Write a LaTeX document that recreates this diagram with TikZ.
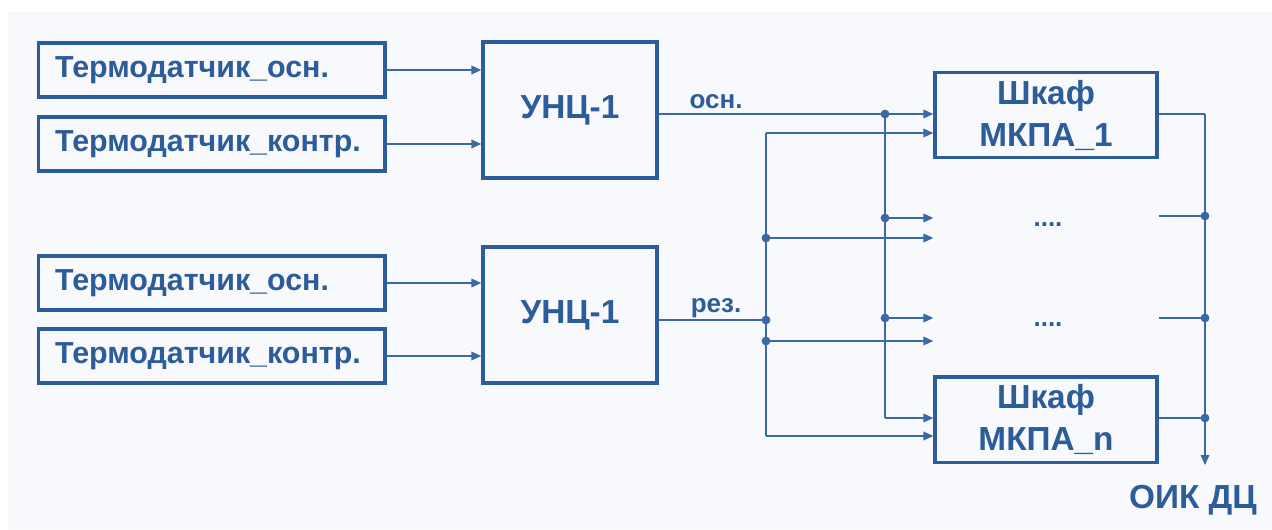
\documentclass[tikz,border=0pt]{standalone}
\usepackage{fontspec}
\setmainfont{Liberation Sans}
\usetikzlibrary{arrows.meta}
\definecolor{schblue}{HTML}{2C5C9A}
\definecolor{schline}{HTML}{3A69A6}
\definecolor{schbg}{HTML}{F7F9FC}
\tikzset{
  boxline/.style={draw=schblue, line width=2.5pt, inner sep=0pt, text=schblue},
  sensor/.style={boxline, minimum width=260pt, minimum height=40.5pt, inner xsep=12.75pt,
    text width=234.5pt, align=left, font=\bfseries\fontsize{22.8}{26}\selectfont},
  unc/.style={boxline, minimum width=130.5pt, minimum height=102pt,
    font=\bfseries\fontsize{25}{30}\selectfont},
  cab/.style={boxline, minimum width=166.5pt, minimum height=64pt, align=center,
    font=\bfseries\fontsize{25}{31.5}\selectfont},
  wire/.style={draw=schline, line width=1.2pt},
  feed/.style={wire, -{Triangle[length=7.5pt,width=6.5pt]}},
  lbl/.style={anchor=base, text=schblue, font=\bfseries\fontsize{19.5}{22}\selectfont}
}
\begin{document}
\begin{tikzpicture}[x=0.75pt,y=-0.75pt]
\fill[white] (0,0) rectangle (1272,529);
\fill[schbg] (8,12) rectangle (1272,529);
\useasboundingbox (0,0) rectangle (1272,529);

\node[sensor] (s1) at (211.5,70)  {Термодатчик\_осн.};
\node[sensor] (s2) at (211.5,144) {Термодатчик\_контр.};
\node[sensor] (s3) at (211.5,283) {Термодатчик\_осн.};
\node[sensor] (s4) at (211.5,356) {Термодатчик\_контр.};
\node[unc] (u1) at (570,110) {УНЦ-1};
\node[unc] (u2) at (570,315) {УНЦ-1};
\node[cab] (m1) at (1046,115)   {Шкаф\\МКПА\_1};
\node[cab] (mn) at (1046,419.5) {Шкаф\\МКПА\_n};

\draw[feed] (s1.east) -- (s1.east -| u1.west);
\draw[feed] (s2.east) -- (s2.east -| u1.west);
\draw[feed] (s3.east) -- (s3.east -| u2.west);
\draw[feed] (s4.east) -- (s4.east -| u2.west);

\coordinate (a0) at (885,114);
\coordinate (a1) at (885,218);
\coordinate (a2) at (885,318);
\coordinate (a3) at (885,418);
\coordinate (b0) at (766,133);
\coordinate (b1) at (766,238);
\coordinate (b2) at (766,320);
\coordinate (b3) at (766,341);
\coordinate (b4) at (766,436);
\coordinate (c0) at (1205,114);
\coordinate (c1) at (1205,216);
\coordinate (c2) at (1205,318);
\coordinate (c3) at (1205,418);
\coordinate (c4) at (1205,465);

\draw[wire] (u1.east |- a0) -- (a0);
\draw[feed] (a0) -- (a0 -| m1.west);
\draw[wire] (a0) -- (a3);
\draw[feed] (a3) -- (a3 -| mn.west);
\draw[feed] (a1) -- (a1 -| m1.west);
\draw[feed] (a2) -- (a2 -| m1.west);

\draw[wire] (u2.east |- b2) -- (b2);
\draw[wire] (b0) -- (b4);
\draw[feed] (b0) -- (b0 -| m1.west);
\draw[feed] (b4) -- (b4 -| mn.west);
\draw[feed] (b1) -- (b1 -| m1.west);
\draw[feed] (b3) -- (b3 -| m1.west);

\draw[wire] (m1.east |- c0) -- (c0);
\draw[feed] (c0) -- (c4);
\draw[wire] (mn.east |- c3) -- (c3);
\draw[wire] (c1 -| mn.east) -- (c1);
\draw[wire] (c2 -| mn.east) -- (c2);

\foreach \p in {a0,a1,a2,b1,b2,b3,c1,c2,c3}
  \fill[schline] (\p) circle (3.3pt);

\node[lbl] (osn) at (716,108) {осн.};
\node[lbl] (rez) at (716,312) {рез.};
\node[lbl] (gap1) at (1048,226) {....};
\node[lbl] (gap2) at (1048,326) {....};
\node[lbl, font=\bfseries\fontsize{25}{30}\selectfont] (oik) at (1193,508) {ОИК ДЦ};
\end{tikzpicture}
\end{document}
